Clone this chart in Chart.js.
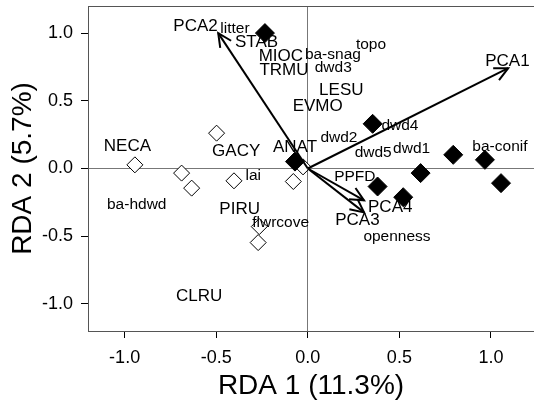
<!DOCTYPE html>
<html>
<head>
<meta charset="utf-8">
<script src="https://cdn.jsdelivr.net/npm/chart.js@4.4.1/dist/chart.umd.min.js"></script>
<style>
    html, body { margin: 0; padding: 0; background: #fff; }
</style>
</head>
<body>
<canvas id="rdaChart" width="534" height="405"></canvas>
<script>
// Site scores (open = one group, filled = other group)
const openX = [-0.498, -0.944, -0.689, -0.634, -0.403, -0.079, -0.265, -0.271, -0.026];
const openY = [0.261, 0.027, -0.034, -0.145, -0.091, -0.096, -0.429, -0.547, 0.012];
const filledX = [-0.234, 0.354, -0.070, 0.381, 0.521, 0.616, 0.794, 0.967, 1.055];
const filledY = [1.000, 0.330, 0.051, -0.133, -0.212, -0.034, 0.101, 0.064, -0.108];

// Environmental vectors
const arrowNames = ['PCA1', 'PCA2', 'PCA3', 'PCA4'];
const arrowX = [1.094, -0.489, 0.307, 0.307];
const arrowY = [0.741, 1.000, -0.324, -0.235];
const arrowLabelX = [1.090, -0.613, 0.271, 0.450];
const arrowLabelY = [0.793, 1.052, -0.385, -0.287];

// Species scores
const speciesNames = ['STAB', 'MIOC', 'TRMU', 'LESU', 'EVMO', 'ANAT', 'NECA', 'GACY', 'PIRU', 'CLRU'];
const speciesX = [-0.280, -0.147, -0.130, 0.183, 0.054, -0.070, -0.985, -0.391, -0.372, -0.593];
const speciesY = [0.932, 0.825, 0.723, 0.577, 0.458, 0.156, 0.162, 0.129, -0.303, -0.946];

// Environmental variable names
const envNames = ['litter', 'ba-snag', 'dwd3', 'topo', 'dwd2', 'dwd4', 'dwd5', 'dwd1', 'ba-conif', 'PPFD', 'openness', 'lai', 'ba-hdwd', 'flwrcove'];
const envX = [-0.398, 0.137, 0.139, 0.345, 0.170, 0.503, 0.357, 0.567, 1.049, 0.257, 0.487, -0.298, -0.934, -0.148];
const envY = [1.032, 0.843, 0.744, 0.911, 0.229, 0.319, 0.116, 0.147, 0.158, -0.063, -0.501, -0.051, -0.266, -0.401];

const xTicks = [-1.0, -0.5, 0.0, 0.5, 1.0];
const yTicks = [-1.0, -0.5, 0.0, 0.5, 1.0];

const FONT = "'Liberation Sans', Arial, Helvetica, sans-serif";
Chart.defaults.font.family = FONT;
Chart.defaults.color = '#000';

const toPoints = (xs, ys) => xs.map((x, i) => ({ x: x, y: ys[i] }));

const arrowSets = arrowNames.map((name, i) => ({
    label: name,
    type: 'line',
    data: [{ x: 0, y: 0 }, { x: arrowX[i], y: arrowY[i] }],
    borderColor: '#000',
    borderWidth: 2,
    pointRadius: 0,
    fill: false,
    isArrow: true
}));

// draws the open arrow heads at the end of each vector
const arrowHeads = {
    id: 'arrowHeads',
    afterDatasetsDraw(chart) {
        const ctx = chart.ctx;
        ctx.save();
        ctx.strokeStyle = '#000';
        ctx.lineWidth = 2;
        chart.data.datasets.forEach((ds, i) => {
            if (!ds.isArrow) return;
            const pts = chart.getDatasetMeta(i).data;
            const a = pts[0], b = pts[1];
            const ang = Math.atan2(b.y - a.y, b.x - a.x);
            const len = 15, spread = 0.45;
            ctx.beginPath();
            ctx.moveTo(b.x - len * Math.cos(ang - spread), b.y - len * Math.sin(ang - spread));
            ctx.lineTo(b.x, b.y);
            ctx.lineTo(b.x - len * Math.cos(ang + spread), b.y - len * Math.sin(ang + spread));
            ctx.stroke();
        });
        ctx.restore();
    }
};

// text labels for species, variables and vectors
const labelText = {
    id: 'labelText',
    afterDatasetsDraw(chart) {
        const ctx = chart.ctx;
        const xs = chart.scales.x, ys = chart.scales.y;
        const put = (names, lx, ly, size) => {
            ctx.font = size + 'px ' + FONT;
            names.forEach((n, i) => {
                ctx.fillText(n, xs.getPixelForValue(lx[i]), ys.getPixelForValue(ly[i]));
            });
        };
        ctx.save();
        ctx.fillStyle = '#000';
        ctx.textAlign = 'center';
        ctx.textBaseline = 'middle';
        put(speciesNames, speciesX, speciesY, 17);
        put(arrowNames, arrowLabelX, arrowLabelY, 17);
        put(envNames, envX, envY, 15.5);
        ctx.restore();
    }
};

// top edge of the plot frame
const frameTop = {
    id: 'frameTop',
    beforeDatasetsDraw(chart) {
        const { ctx, chartArea } = chart;
        ctx.save();
        ctx.strokeStyle = '#555';
        ctx.lineWidth = 1;
        ctx.beginPath();
        ctx.moveTo(chartArea.left, chartArea.top + 0.5);
        ctx.lineTo(chartArea.right, chartArea.top + 0.5);
        ctx.stroke();
        ctx.restore();
    }
};

const zeroGrid = (c) => (c.tick && c.tick.value === 0 ? '#777' : 'rgba(0,0,0,0)');

new Chart(document.getElementById('rdaChart'), {
    type: 'scatter',
    data: {
        datasets: [
            ...arrowSets,
            {
                label: 'filled',
                data: toPoints(filledX, filledY),
                pointStyle: 'rectRot',
                pointRadius: 9.5,
                pointBackgroundColor: '#000',
                pointBorderColor: '#000',
                pointBorderWidth: 1
            },
            {
                label: 'open',
                data: toPoints(openX, openY),
                pointStyle: 'rectRot',
                pointRadius: 8,
                pointBackgroundColor: '#fff',
                pointBorderColor: '#000',
                pointBorderWidth: 1
            }
        ]
    },
    options: {
        responsive: false,
        animation: false,
        events: [],
        layout: { autoPadding: false, padding: { top: 6, right: 0, left: 0, bottom: 0 } },
        plugins: { legend: { display: false }, tooltip: { enabled: false } },
        scales: {
            x: {
                type: 'linear',
                min: -1.2,
                max: 1.235,
                afterBuildTicks: (s) => { s.ticks = xTicks.map(v => ({ value: v })); },
                afterFit: (s) => { s.height = 74; s.paddingLeft = 0; s.paddingRight = 0; },
                ticks: { font: { size: 18 }, padding: 9, callback: (v) => v.toFixed(1) },
                grid: { color: zeroGrid, tickColor: '#000', tickLength: 7, lineWidth: 1 },
                border: { display: true, color: '#555', width: 1 },
                title: { display: true, text: 'RDA 1 (11.3%)', font: { size: 28 }, padding: { top: 0, bottom: 2 } }
            },
            y: {
                type: 'linear',
                min: -1.2,
                max: 1.2,
                afterBuildTicks: (s) => { s.ticks = yTicks.map(v => ({ value: v })); },
                afterFit: (s) => { s.width = 88; s.paddingTop = 0; s.paddingBottom = 0; },
                ticks: { font: { size: 18 }, padding: 8, callback: (v) => v.toFixed(1) },
                grid: { color: zeroGrid, tickColor: '#000', tickLength: 7, lineWidth: 1 },
                border: { display: true, color: '#555', width: 1 },
                title: { display: true, text: 'RDA 2 (5.7%)', font: { size: 28 }, padding: { top: 6, bottom: 0 } }
            }
        }
    },
    plugins: [frameTop, arrowHeads, labelText]
});
</script>
</body>
</html>
